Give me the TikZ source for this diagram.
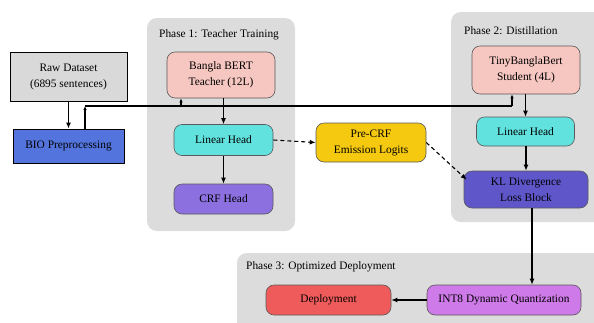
\documentclass[tikz,border=0pt]{standalone}
\usepackage{fontspec}
\setmainfont{Liberation Serif}
\usetikzlibrary{arrows.meta}
\definecolor{phasegray}{HTML}{DCDCDC}
\definecolor{rawgray}{HTML}{D9D9D9}
\definecolor{bioblue}{HTML}{5374DC}
\definecolor{bertpink}{HTML}{F6C6C0}
\definecolor{headcyan}{HTML}{62E2DE}
\definecolor{crfpurple}{HTML}{8C70E0}
\definecolor{logityellow}{HTML}{F5C90F}
\definecolor{klblue}{HTML}{5F57C9}
\definecolor{deployred}{HTML}{EF5B5B}
\definecolor{quantviolet}{HTML}{CE7AE8}
\begin{document}
\begin{tikzpicture}[x=1pt,y=-1pt,font=\fontsize{11.4}{16}\selectfont]
    \tikzstyle{phase}=[fill=phasegray,rounded corners=10pt];
    \tikzstyle{phasetitle}=[anchor=west,inner sep=0pt];
    \tikzstyle{plain}=[draw=black,line width=0.9pt,align=center,inner sep=2pt];
    \tikzstyle{block}=[draw=black!65,line width=0.6pt,rounded corners=8pt,align=center,inner sep=2pt];
    \tikzstyle{arrow}=[line width=1.1pt,-{Latex[length=6pt,width=5pt]}];
    \tikzstyle{smallarrow}=[line width=1.1pt,-{Latex[length=4pt,width=3.5pt]}];
    \tikzstyle{dasharrow}=[line width=1.1pt,dash pattern=on 4pt off 3pt,-{Latex[length=6pt,width=5pt]}];
    \useasboundingbox (0,0) rectangle (594,322);
    
    \fill[phase] (147,18) rectangle (295,231);
    \fill[phase] (451,12) rectangle (606,222);
    \fill[phase] (237,253) rectangle (606,334);
    \node (title1) [phasetitle] at (159,35) {Phase 1: Teacher Training};
    \node (title2) [phasetitle] at (464,31) {Phase 2: Distillation};
    \node (title3) [phasetitle] at (246,267) {Phase 3: Optimized Deployment};
    
    \node (raw) [plain,fill=rawgray,minimum width=117pt,minimum height=49pt] at (68.5,76.5) {Raw Dataset\\(6895 sentences)};
    \node (bio) [plain,fill=bioblue,minimum width=111pt,minimum height=34pt] at (68.5,146) {BIO Preprocessing};
    \node (teacher) [block,fill=bertpink,minimum width=108pt,minimum height=46pt] at (221,75) {Bangla BERT\\Teacher (12L)};
    \node (lin1) [block,fill=headcyan,minimum width=99pt,minimum height=31pt] at (223.5,140) {Linear Head};
    \node (crf) [block,fill=crfpurple,minimum width=99pt,minimum height=30pt] at (223.5,199) {CRF Head};
    \node (logits) [block,fill=logityellow,minimum width=110pt,minimum height=39pt] at (371,142.5) {Pre-CRF\\Emission Logits};
    \node (student) [block,fill=bertpink,minimum width=108pt,minimum height=48pt] at (526,70) {TinyBanglaBert\\Student (4L)};
    \node (lin2) [block,fill=headcyan,minimum width=98pt,minimum height=29pt] at (525.5,131.5) {Linear Head};
    \node (kl) [block,fill=klblue,minimum width=124pt,minimum height=37pt] at (526,189.5) {KL Divergence\\Loss Block};
    \node (deploy) [block,fill=deployred,minimum width=125pt,minimum height=30pt] at (328.5,300) {Deployment};
    \node (int8) [block,fill=quantviolet,minimum width=154pt,minimum height=30pt] at (504,300) {INT8 Dynamic Quantization};
    
    \coordinate (bus) at (85,106);
    \draw[arrow] (raw.south) -- (raw.south |- bio.north);
    \draw[smallarrow] (bus |- bio.north) -- (bus);
    \draw[line width=1.1pt] (bus) -- (bus -| 512,0);
    \draw[smallarrow] (bus -| 181,0) -- (teacher.south -| 181,0);
    \draw[smallarrow] (bus -| 512,0) -- (student.south -| 512,0);
    
    \foreach \a/\b in {teacher/lin1,lin1/crf,student/lin2,lin2/kl}{
        \draw[arrow] (\a.south -| \b.north) -- (\b.north);
    }
    
    \draw[dasharrow] (lin1.east) -- (logits.west);
    \draw[dasharrow] (logits.east) -- ([xshift=3pt,yshift=-9pt]kl.north west);
    \draw[arrow] (kl.south -| 532,0) -- (int8.north -| 532,0);
    \draw[arrow] (int8.west) -- (deploy.east);
    
\end{tikzpicture}
\end{document}
